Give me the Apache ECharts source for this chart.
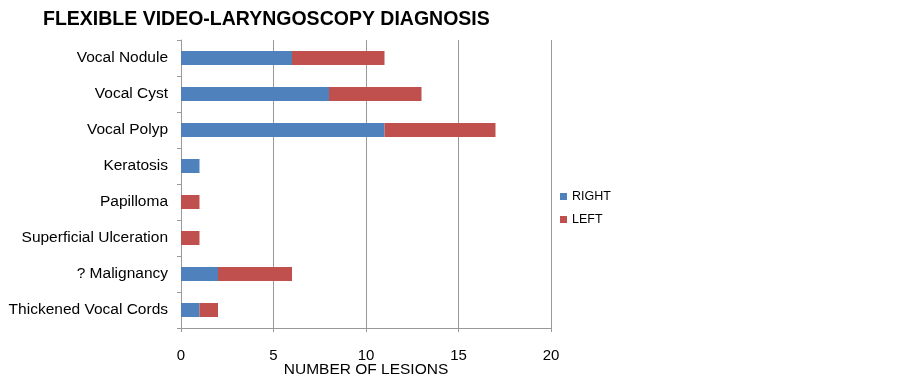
<!DOCTYPE html>
<html><head><meta charset="utf-8">
<script src="https://cdn.jsdelivr.net/npm/echarts@6/dist/echarts.min.js"></script>
<style>html,body{margin:0;padding:0;background:#fff}#c{width:903px;height:379px}</style>
</head><body><div id="c"></div>
<script>
const categories = ['Vocal Nodule','Vocal Cyst','Vocal Polyp','Keratosis','Papilloma','Superficial Ulceration','? Malignancy','Thickened Vocal Cords'];
const rightValues = [6, 8, 11, 1, 0, 0, 2, 1];
const leftValues  = [5, 5, 6, 0, 1, 1, 4, 1];
const xTicks = [0, 5, 10, 15, 20];

const font = 'Liberation Sans, Arial, sans-serif';
const chart = echarts.init(document.getElementById('c'));
chart.setOption({
  animation: false,
  title: {
    text: 'FLEXIBLE VIDEO-LARYNGOSCOPY DIAGNOSIS',
    left: 38, top: 5,
    textStyle: {fontFamily: font, fontSize: 19.5, fontWeight: 'bold', color: '#000'}
  },
  legend: {
    orient: 'vertical', left: 560, top: 190, padding: 0,
    itemWidth: 7, itemHeight: 7, itemGap: 10,
    icon: 'rect',
    textStyle: {fontFamily: font, fontSize: 12.5, color: '#000'},
    data: ['RIGHT', 'LEFT']
  },
  grid: {left: 181, right: 352, top: 40, bottom: 51, outerBoundsMode: 'none', containLabel: false},
  xAxis: {
    type: 'value', min: xTicks[0], max: xTicks[xTicks.length-1], interval: 5,
    name: 'NUMBER OF LESIONS', nameLocation: 'middle', nameGap: 34, nameMoveOverlap: false,
    nameTextStyle: {fontFamily: font, fontSize: 15.5, color: '#000'},
    axisLine: {show: true, lineStyle: {color: '#999', width: 1}},
    axisTick: {show: true, length: 4, lineStyle: {color: '#999'}},
    axisLabel: {margin: 20, fontFamily: font, fontSize: 15, color: '#000'},
    splitLine: {show: true, lineStyle: {color: '#999', width: 1}}
  },
  yAxis: {
    type: 'category', data: categories, inverse: true,
    axisLine: {show: true, lineStyle: {color: '#999', width: 1}},
    axisTick: {show: true, length: 4, lineStyle: {color: '#999'}},
    axisLabel: {margin: 13, fontFamily: font, fontSize: 15.5, color: '#000'}
  },
  series: [
    {name: 'RIGHT', type: 'bar', stack: 's', data: rightValues, barWidth: 14,
     itemStyle: {color: '#4F81BD'}},
    {name: 'LEFT', type: 'bar', stack: 's', data: leftValues, barWidth: 14,
     itemStyle: {color: '#C0504D'}}
  ]
});
</script></body></html>
